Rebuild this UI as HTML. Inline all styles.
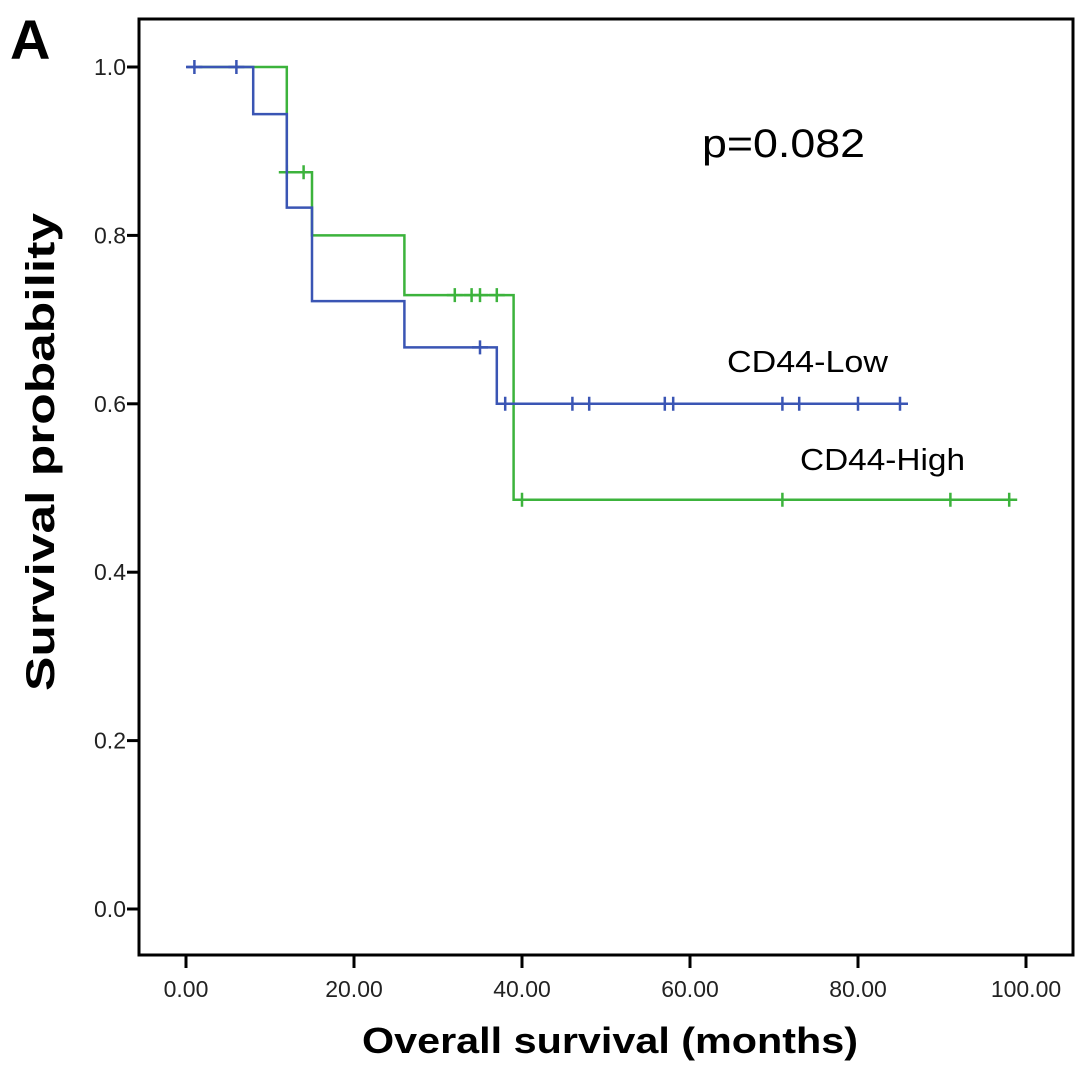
<!DOCTYPE html>
<html><head><meta charset="utf-8"><style>
html,body{margin:0;padding:0;background:#fff;}
svg{display:block;font-family:"Liberation Sans",Arial,sans-serif;}
</style></head><body>
<svg id="chart" width="1087" height="1077" viewBox="0 0 1087 1077">
<rect x="0" y="0" width="1087" height="1077" fill="#fff"/>
<text x="10" y="59" font-size="56" font-weight="bold">A</text>
<rect x="139" y="19" width="934" height="936" fill="none" stroke="#000" stroke-width="3"/>
<g id="yticks"></g>
<g id="xticks"></g>
<g id="series"></g>
<text x="702" y="157" font-size="40" textLength="163" lengthAdjust="spacingAndGlyphs">p=0.082</text>
<text x="727" y="372" font-size="31" textLength="161" lengthAdjust="spacingAndGlyphs">CD44-Low</text>
<text x="800" y="470" font-size="31" textLength="165" lengthAdjust="spacingAndGlyphs">CD44-High</text>
<text transform="translate(54,452) rotate(-90)" text-anchor="middle" font-size="40" font-weight="bold" textLength="478" lengthAdjust="spacingAndGlyphs">Survival probability</text>
<text x="362" y="1053" font-size="36" font-weight="bold" textLength="496" lengthAdjust="spacingAndGlyphs">Overall survival (months)</text>
</svg>
<script>
const yTicks = [0.0, 0.2, 0.4, 0.6, 0.8, 1.0];
const yTickLabels = ["0.0", "0.2", "0.4", "0.6", "0.8", "1.0"];
const xTicks = [0, 20, 40, 60, 80, 100];
const xTickLabels = ["0.00", "20.00", "40.00", "60.00", "80.00", "100.00"];
// step curves: [time, survival] change points
const lowTimes = [0, 8, 12, 15, 26, 37, 85.8];
const lowSurv = [1.0, 0.944, 0.833, 0.722, 0.667, 0.6, 0.6];
const lowCensor = [1, 6, 35, 38, 46, 48, 57, 58, 71, 73, 80, 85];
const highTimes = [1.5, 12, 15, 26, 39, 98.5];
const highSurv = [1.0, 0.875, 0.80, 0.729, 0.486, 0.486];
const highCensor = [12, 14, 32, 34, 35, 37, 40, 71, 91, 98];

const NS = "http://www.w3.org/2000/svg";
const xS = m => 186 + 8.4 * m;
const yS = v => 909 - 842 * v;
function mk(tag, attrs, parent) {
  const e = document.createElementNS(NS, tag);
  for (const k in attrs) e.setAttribute(k, attrs[k]);
  parent.appendChild(e);
  return e;
}
const yg = document.getElementById('yticks');
yTicks.forEach((v, i) => {
  const l = mk('line', {x1: 127, x2: 139, y1: yS(v), y2: yS(v), stroke: '#000', 'stroke-width': 3}, yg);
  
  
  const t = mk('text', {x: 126, y: yS(v) + 8, 'text-anchor': 'end', 'font-size': 23, fill: '#222'}, yg);
  t.textContent = yTickLabels[i];
  
  
});
const xg = document.getElementById('xticks');
xTicks.forEach((v, i) => {
  const l = mk('line', {x1: xS(v), x2: xS(v), y1: 955, y2: 968, stroke: '#000', 'stroke-width': 3}, xg);
  
  
  const t = mk('text', {x: xS(v), y: 997, 'text-anchor': 'middle', 'font-size': 23, fill: '#222'}, xg);
  t.textContent = xTickLabels[i];
  
  
});
function survAt(times, surv, m) {
  let s = surv[0];
  for (let i = 0; i < times.length; i++) if (times[i] <= m) s = surv[i];
  return s;
}
const sg = document.getElementById('series');
function drawSeries(times, surv, cens, color, name) {
  let d = `M${xS(times[0])},${yS(surv[0])}`;
  for (let i = 1; i < times.length; i++) {
    d += ` H${xS(times[i])} V${yS(surv[i])}`;
  }
  const p = mk('path', {d: d, fill: 'none', stroke: color, 'stroke-width': 2.5}, sg);
  
  
  cens.forEach(m => {
    const x = xS(m), y = yS(survAt(times, surv, m));
    const c = mk('path', {d: `M${x - 8},${y} H${x + 8} M${x},${y - 7} V${y + 7}`, stroke: color, 'stroke-width': 2.5, fill: 'none'}, sg);
    
    
  });
}
drawSeries(highTimes, highSurv, highCensor, '#3cb33c', 'cd44-high');
drawSeries(lowTimes, lowSurv, lowCensor, '#3a55b4', 'cd44-low');
</script>
</body></html>
